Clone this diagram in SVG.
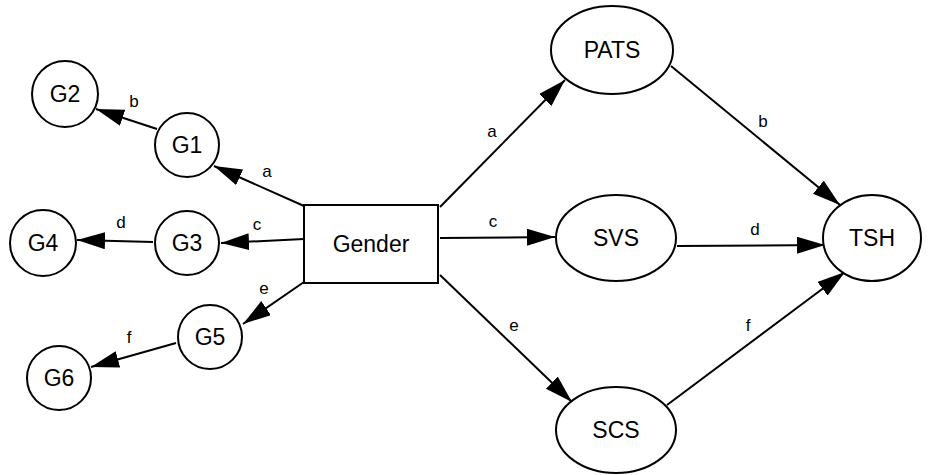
<svg xmlns="http://www.w3.org/2000/svg" width="937" height="475" viewBox="0 0 937 475">
  <style>
    .shape { fill: #ffffff; stroke: #000000; stroke-width: 2; }
    .name { font-family: "Liberation Sans", Arial, sans-serif; font-size: 23px; fill: #000000; text-anchor: middle; dominant-baseline: central; }
    .edge { stroke: #000000; stroke-width: 2; fill: none; marker-end: url(#arrow); }
    .tag { font-family: "Liberation Sans", Arial, sans-serif; font-size: 17px; fill: #000000; text-anchor: middle; dominant-baseline: central; }
  </style>
  <defs>
    <marker id="arrow" markerUnits="userSpaceOnUse" markerWidth="30" markerHeight="18" refX="28" refY="8.5" orient="auto">
      <path d="M0,0 L28,8.5 L0,17 z" fill="#000000"/>
    </marker>
  </defs>
  <rect width="937" height="475" fill="#ffffff"/>

  <g id="connectors">
    <!-- Gender to the G chain on the left -->
    <line class="edge" x1="304" y1="206" x2="214" y2="166"/>
    <line class="edge" x1="304" y1="239" x2="221" y2="243"/>
    <line class="edge" x1="304" y1="282" x2="243" y2="324"/>
    <line class="edge" x1="157" y1="129" x2="96" y2="109"/>
    <line class="edge" x1="153" y1="242" x2="77" y2="240"/>
    <line class="edge" x1="176" y1="343" x2="91" y2="367"/>
    <!-- Gender to the mediators and TSH on the right -->
    <line class="edge" x1="440" y1="207" x2="565" y2="80"/>
    <line class="edge" x1="440" y1="238" x2="555" y2="237"/>
    <line class="edge" x1="440" y1="275" x2="572" y2="402"/>
    <line class="edge" x1="671" y1="66" x2="840" y2="205"/>
    <line class="edge" x1="677" y1="246" x2="825" y2="245"/>
    <line class="edge" x1="667" y1="405" x2="845" y2="272"/>
    <!-- path labels -->
    <text class="tag" x="267" y="171">a</text>
    <text class="tag" x="134" y="101">b</text>
    <text class="tag" x="257" y="224">c</text>
    <text class="tag" x="121" y="222">d</text>
    <text class="tag" x="264" y="288">e</text>
    <text class="tag" x="129" y="337">f</text>
    <text class="tag" x="492" y="131">a</text>
    <text class="tag" x="763" y="121">b</text>
    <text class="tag" x="493" y="221">c</text>
    <text class="tag" x="755" y="229">d</text>
    <text class="tag" x="514" y="325">e</text>
    <text class="tag" x="748" y="325">f</text>
  </g>

  <g id="gender">
    <rect class="shape" x="304" y="205" width="134" height="78"/>
    <text class="name" x="371" y="244">Gender</text>
  </g>
  <g id="g1">
    <circle class="shape" cx="187" cy="145" r="32"/>
    <text class="name" x="187" y="145">G1</text>
  </g>
  <g id="g2">
    <circle class="shape" cx="65" cy="94" r="33"/>
    <text class="name" x="65" y="94">G2</text>
  </g>
  <g id="g3">
    <circle class="shape" cx="187" cy="243" r="32"/>
    <text class="name" x="187" y="243">G3</text>
  </g>
  <g id="g4">
    <circle class="shape" cx="43" cy="243" r="33"/>
    <text class="name" x="43" y="243">G4</text>
  </g>
  <g id="g5">
    <circle class="shape" cx="210" cy="337" r="32"/>
    <text class="name" x="210" y="337">G5</text>
  </g>
  <g id="g6">
    <circle class="shape" cx="59" cy="378" r="32"/>
    <text class="name" x="59" y="378">G6</text>
  </g>
  <g id="pats">
    <ellipse class="shape" cx="612" cy="50" rx="61" ry="44"/>
    <text class="name" x="612" y="50">PATS</text>
  </g>
  <g id="svs">
    <ellipse class="shape" cx="616" cy="238" rx="60" ry="43"/>
    <text class="name" x="616" y="238">SVS</text>
  </g>
  <g id="scs">
    <ellipse class="shape" cx="616" cy="430" rx="60" ry="43"/>
    <text class="name" x="616" y="430">SCS</text>
  </g>
  <g id="tsh">
    <ellipse class="shape" cx="872" cy="238" rx="49" ry="43"/>
    <text class="name" x="872" y="238">TSH</text>
  </g>
</svg>
